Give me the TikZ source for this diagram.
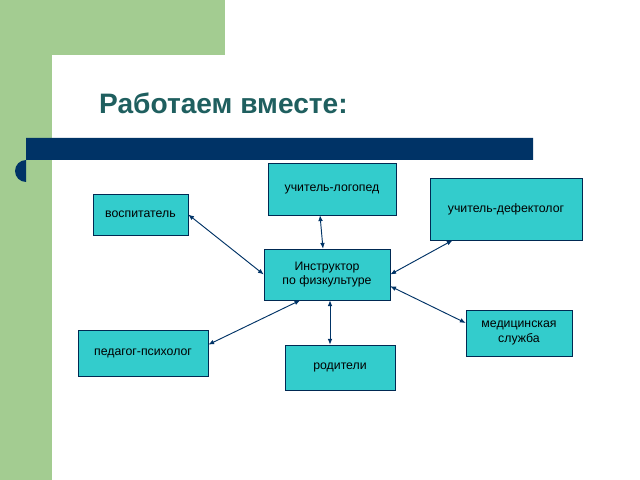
\documentclass[tikz,border=0pt]{standalone}
\usepackage{fontspec}
\setmainfont{Liberation Sans}
\usetikzlibrary{arrows.meta}
\definecolor{bgreen}{HTML}{A3CC91}
\definecolor{boxcyan}{HTML}{33CCCC}
\definecolor{navy}{HTML}{003366}
\definecolor{titleteal}{HTML}{1F5F5F}
\tikzset{
  box/.style={draw=navy!80!black, fill=boxcyan, inner sep=1pt, align=center, font=\fontsize{10.5}{12.5}\selectfont},
  link/.style={navy, thick, {Latex[length=5pt,width=4pt]}-{Latex[length=5pt,width=4pt]}}
}
\begin{document}
\begin{tikzpicture}[x=0.03cm, y=-0.03cm]
    \useasboundingbox (0,0) rectangle (640,480);
    % background
    \fill[white] (0,0) rectangle (640,480);
    \fill[bgreen] (0,0) rectangle (52,480);
    \fill[bgreen] (52,0) rectangle (225,55);
    \fill[white] (52,105) -- (52,80) arc[start angle=180, end angle=90, radius=25] -- (100,55) -- (100,105) -- cycle;
    \fill[bgreen] (52,55) -- (77,55) arc[start angle=90, end angle=180, radius=25] -- cycle;
    \node[anchor=west, text=titleteal, font=\fontsize{24}{28}\selectfont\bfseries] (title) at (95,103) {Работаем вместе:};
    \fill[navy] (26,138) -- (533,138) -- (533,160) -- (26,160) arc[start angle=270, end angle=90, radius=11] -- cycle;
    % boxes
    \node[box, minimum width=128*0.03cm, minimum height=52*0.03cm] (logo) at (332,189) {учитель-логопед};
    \node[box, minimum width=152*0.03cm, minimum height=62*0.03cm] (defe) at (506,209) {учитель-дефектолог};
    \node[box, minimum width=95*0.03cm, minimum height=41*0.03cm] (vosp) at (140.5,214.5) {воспитатель};
    \node[box, minimum width=126*0.03cm, minimum height=51*0.03cm] (instr) at (327,274.5) {Инструктор \\ по физкультуре};
    \node[box, minimum width=106*0.03cm, minimum height=46*0.03cm] (med) at (519,333) {медицинская\\ служба};
    \node[box, minimum width=130*0.03cm, minimum height=46*0.03cm] (psih) at (143,353) {педагог-психолог};
    \node[box, minimum width=110*0.03cm, minimum height=45*0.03cm] (rod) at (340,367.5) {родители};
    % links
    \draw[link] (logo.south -| 320,0) -- (instr.north -| 323,0);
    \draw[link] (vosp.east) -- (instr.west);
    \draw[link] ([xshift=-1.6cm]defe.south) -- (instr.east);
    \draw[link] ([yshift=0.3cm]med.west) -- ([yshift=-0.35cm]instr.east);
    \draw[link] ([yshift=0.25cm]psih.east) -- ([xshift=-0.8cm]instr.south);
    \draw[link] (rod.north -| 330,0) -- (instr.south -| 330,0);
\end{tikzpicture}
\end{document}
